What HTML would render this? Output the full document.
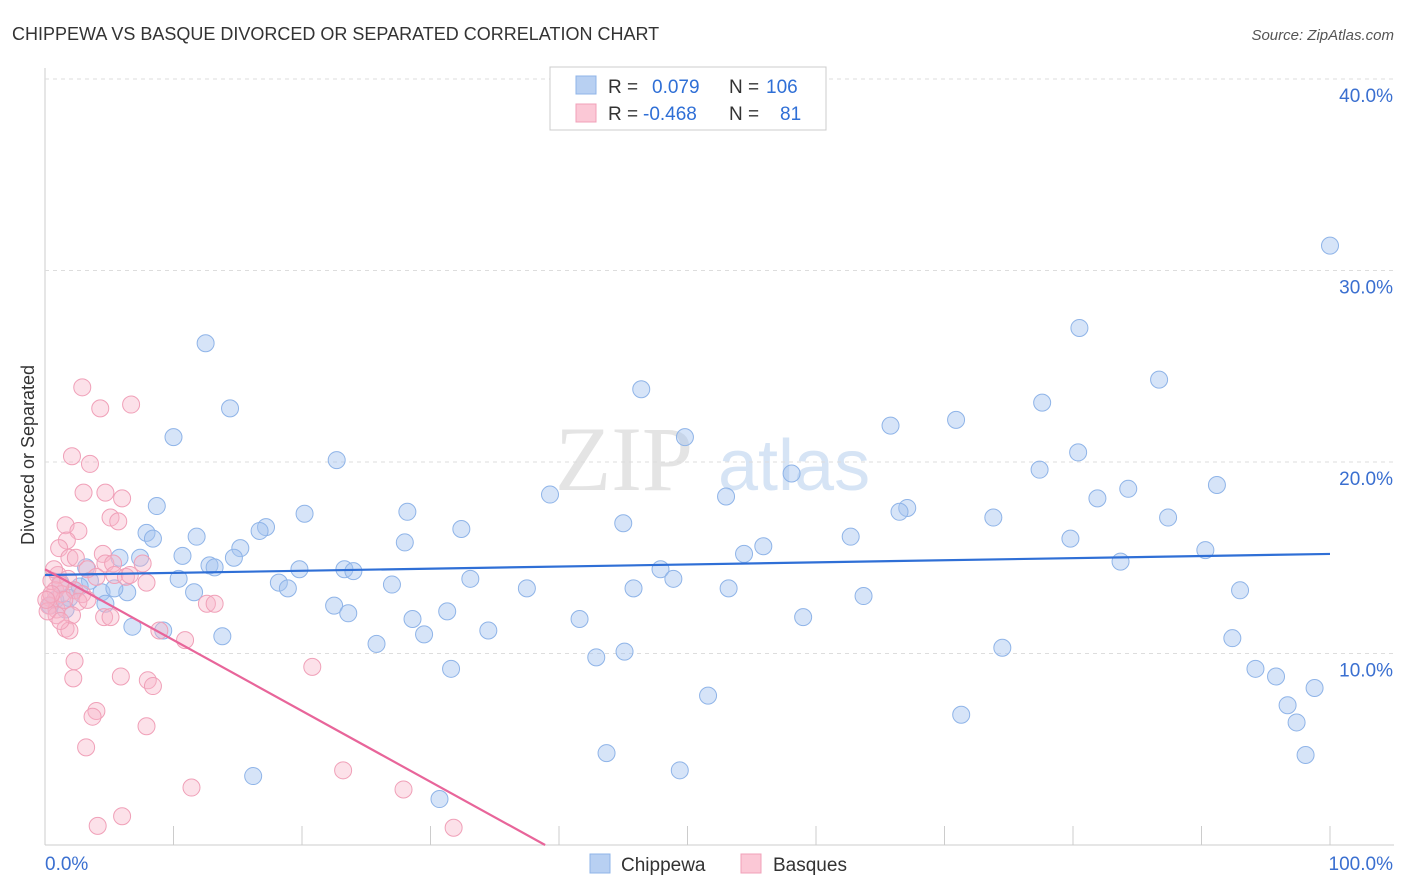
<!DOCTYPE html>
<html><head><meta charset="utf-8"><style>
body{margin:0;background:#fff;font-family:"Liberation Sans",sans-serif;}
svg{display:block}
</style></head><body>
<svg id="c" width="1406" height="892" xmlns="http://www.w3.org/2000/svg">
<text x="12" y="40" font-size="18" fill="#333">CHIPPEWA VS BASQUE DIVORCED OR SEPARATED CORRELATION CHART</text>
<text x="1394" y="40" font-size="15" fill="#555" font-style="italic" text-anchor="end">Source: ZipAtlas.com</text>
<text x="0" y="0" transform="translate(34,455) rotate(-90)" font-size="18" fill="#333" text-anchor="middle">Divorced or Separated</text>
<g><text x="555" y="490" font-size="92" fill="#e4e4e4" font-family="Liberation Serif,serif">ZIP</text><text x="718" y="490" font-size="72" fill="#d6e4f5">atlas</text></g>
<g id="grid"></g><g id="lines"></g><g id="pts"></g>
<g>
<rect x="550" y="67" width="276" height="63" fill="#fff" stroke="#ccc"/>
<rect x="576" y="76" width="20" height="18" fill="#b8d0f2" stroke="#8fb4e8"/>
<rect x="576" y="104" width="20" height="18" fill="#fbc8d6" stroke="#f0a0b8"/>
<text x="608" y="93" font-size="19" fill="#333">R = <tspan fill="#2f6fd6" x="652">0.079</tspan><tspan x="729" fill="#333">N =</tspan><tspan x="766" fill="#2f6fd6">106</tspan></text>
<text x="608" y="120" font-size="19" fill="#333">R = <tspan fill="#2f6fd6" x="643">-0.468</tspan><tspan x="729" fill="#333">N =</tspan><tspan x="780" fill="#2f6fd6">81</tspan></text>
</g>
<g>
<rect x="590" y="854" width="20" height="19" fill="#b8d0f2" stroke="#8fb4e8"/>
<text x="621" y="871" font-size="19" fill="#333">Chippewa</text>
<rect x="741" y="854" width="20" height="19" fill="#fbc8d6" stroke="#f0a0b8"/>
<text x="773" y="871" font-size="19" fill="#333">Basques</text>
</g>
</svg>
<script>
const blueX=[100,80.5,86.7,77.6,70.9,65.8,46.4,49.8,12.5,14.4,10.0,22.7,80.4,77.4,58.1,39.3,53.0,81.9,84.3,91.2,67.1,66.5,73.8,87.4,79.8,62.7,28.2,20.2,17.2,16.7,8.7,7.9,8.4,11.8,32.4,45.0,28.0,15.2,10.7,7.4,5.8,55.9,54.4,90.3,83.7,12.8,13.2,14.7,19.8,23.3,24.0,47.9,48.9,33.1,10.4,18.2,18.9,27.0,37.5,45.8,53.2,63.7,93.0,11.6,6.4,4.4,5.4,3.2,3.5,4.7,22.5,23.6,31.3,28.6,41.6,59.0,34.5,6.8,9.2,13.8,29.5,25.8,92.4,74.5,42.9,45.1,31.6,94.2,95.8,98.8,51.6,71.3,96.7,97.4,98.1,43.7,49.4,16.2,30.7,2.3,1.9,2.7,1.2,0.8,0.4,1.6];
const blueY=[31.3,27.0,24.3,23.1,22.2,21.9,23.8,21.3,26.2,22.8,21.3,20.1,20.5,19.6,19.4,18.3,18.2,18.1,18.6,18.8,17.6,17.4,17.1,17.1,16.0,16.1,17.4,17.3,16.6,16.4,17.7,16.3,16.0,16.1,16.5,16.8,15.8,15.5,15.1,15.0,15.0,15.6,15.2,15.4,14.8,14.6,14.5,15.0,14.4,14.4,14.3,14.4,13.9,13.9,13.9,13.7,13.4,13.6,13.4,13.4,13.4,13.0,13.3,13.2,13.2,13.2,13.4,14.5,13.8,12.6,12.5,12.1,12.2,11.8,11.8,11.9,11.2,11.4,11.2,10.9,11.0,10.5,10.8,10.3,9.8,10.1,9.2,9.2,8.8,8.2,7.8,6.8,7.3,6.4,4.7,4.8,3.9,3.6,2.4,13.3,12.9,13.5,13.7,12.8,12.5,12.3];
const pinkX=[2.9,4.3,6.7,2.1,3.5,3.0,4.7,6.0,5.1,5.7,1.6,2.6,1.7,1.1,1.9,4.5,2.4,4.7,5.3,7.6,1.0,1.8,3.3,4.0,5.4,6.3,7.9,0.5,0.8,1.3,2.3,2.9,0.4,0.3,0.9,2.6,3.3,4.6,5.1,2.1,0.9,0.2,1.6,1.9,8.9,10.9,12.6,13.2,2.3,2.2,5.9,8.0,8.4,20.8,4.0,3.7,3.2,7.9,23.2,11.4,27.9,4.1,6.0,31.8,1.2,1.5,0.5,1.2,6.6,0.1,0.7];
const pinkY=[23.9,22.8,23.0,20.3,19.9,18.4,18.4,18.1,17.1,16.9,16.7,16.4,15.9,15.5,15.0,15.2,15.0,14.7,14.7,14.7,14.1,13.9,14.4,14.0,14.1,14.0,13.7,13.8,13.3,13.1,13.3,13.1,12.9,12.5,12.3,12.7,12.8,11.9,11.9,12.0,12.0,12.2,11.3,11.2,11.2,10.7,12.6,12.6,9.6,8.7,8.8,8.6,8.3,9.3,7.0,6.7,5.1,6.2,3.9,3.0,2.9,1.0,1.5,0.9,13.6,12.8,13.1,11.7,14.1,12.8,14.4];
const trendBlue=[14.1,0.011];   // intercept, slope
const trendPink=[14.4,-0.37];
const yTicks=[10,20,30,40];
const yTickLabels=["10.0%","20.0%","30.0%","40.0%"];
const xTicks=[0,10,20,30,40,50,60,70,80,90,100];

const NS="http://www.w3.org/2000/svg";
const sx=v=>45+v*12.85, sy=v=>845-v*19.15;
function mk(t,a,p){const e=document.createElementNS(NS,t);for(const k in a)e.setAttribute(k,a[k]);p.appendChild(e);return e;}
const grid=document.getElementById('grid'),lines=document.getElementById('lines'),pts=document.getElementById('pts');
let l=mk('line',{x1:45,y1:68,x2:45,y2:845,stroke:'#ccc'},grid);


l=mk('line',{x1:45,y1:845,x2:1394,y2:845,stroke:'#ccc'},grid);


yTicks.forEach((v,i)=>{
 const g=mk('line',{x1:45,y1:sy(v),x2:1394,y2:sy(v),stroke:'#ddd','stroke-dasharray':'4,4'},grid);
 
 
 const t=mk('text',{x:1393,y:sy(v)+23,'font-size':19,fill:'#3a6fd0','text-anchor':'end'},grid);
 t.textContent=yTickLabels[i];
 
 
});
xTicks.forEach(v=>{
 const g=mk('line',{x1:sx(v),y1:826,x2:sx(v),y2:845,stroke:'#ccc'},grid);
 
 
});
let t=mk('text',{x:45,y:870,'font-size':19,fill:'#3a6fd0'},grid);t.textContent='0.0%';


t=mk('text',{x:1393,y:870,'font-size':19,fill:'#3a6fd0','text-anchor':'end'},grid);t.textContent='100.0%';


blueX.forEach((x,i)=>{
 const c=mk('circle',{cx:sx(x),cy:sy(blueY[i]),r:8.5,fill:'rgba(164,196,240,0.45)',stroke:'#8fb4e8','stroke-width':1},pts);
 
 
});
pinkX.forEach((x,i)=>{
 const c=mk('circle',{cx:sx(x),cy:sy(pinkY[i]),r:8.5,fill:'rgba(248,180,200,0.4)',stroke:'#f0a0b8','stroke-width':1},pts);
 
 
});
let b=mk('line',{x1:sx(0),y1:sy(trendBlue[0]),x2:sx(100),y2:sy(trendBlue[0]+trendBlue[1]*100),stroke:'#2f6fd6','stroke-width':2.2},lines);


const xEnd=Math.min(100,-trendPink[0]/trendPink[1]);
b=mk('line',{x1:sx(0),y1:sy(trendPink[0]),x2:sx(xEnd),y2:sy(trendPink[0]+trendPink[1]*xEnd),stroke:'#e8659a','stroke-width':2.2},lines);


lines.parentNode.appendChild(lines);
</script>
</body></html>
